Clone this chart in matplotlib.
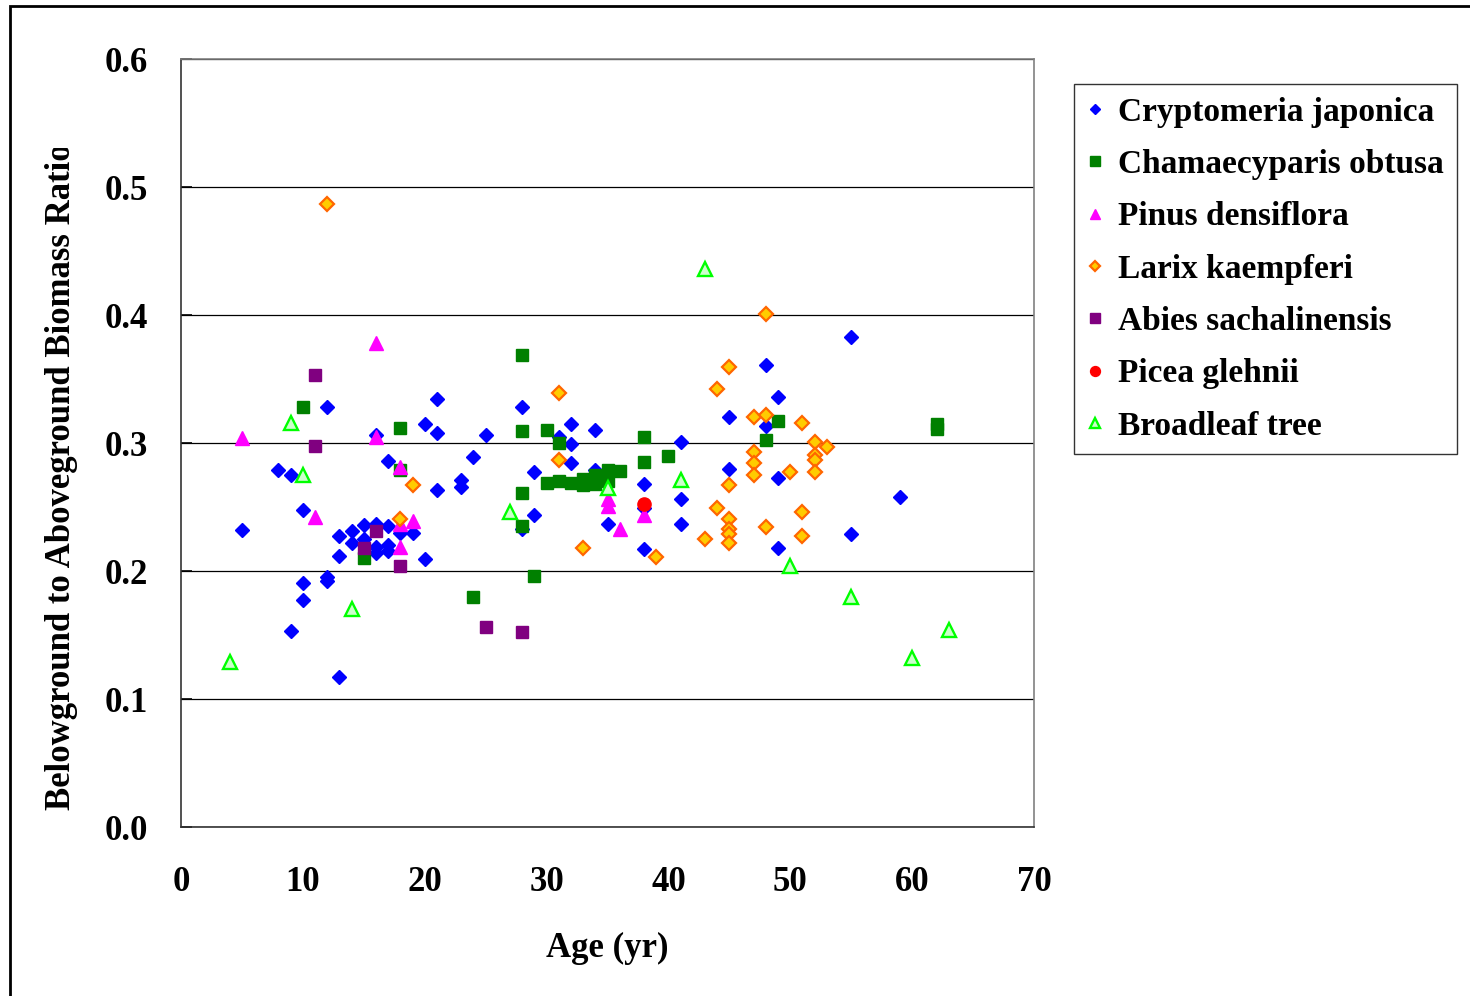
import matplotlib
matplotlib.use("Agg")
import matplotlib.pyplot as plt
from matplotlib.patches import Rectangle
from matplotlib.transforms import Bbox

plt.rcParams['font.family'] = ['Liberation Serif', 'DejaVu Serif']
plt.rcParams['font.weight'] = 'bold'

# Cryptomeria japonica
cj_age = [5, 8, 9, 9, 10, 10, 10, 12, 12, 12, 13, 13, 13, 14, 14, 15, 15, 16, 16, 16, 16,
          17, 17, 17, 17, 18, 19, 20, 20, 21, 21, 21, 23, 23, 24, 25, 28, 28, 29, 29, 31,
          32, 32, 32, 34, 34, 35, 38, 38, 38, 41, 41, 41, 45, 45, 48, 48, 49, 49, 49, 55, 55, 59]
cj_ratio = [0.232, 0.279, 0.275, 0.153, 0.248, 0.191, 0.177, 0.328, 0.195, 0.192, 0.227, 0.212, 0.117,
            0.231, 0.222, 0.236, 0.225, 0.306, 0.237, 0.219, 0.214, 0.286, 0.235, 0.220, 0.216,
            0.230, 0.230, 0.315, 0.209, 0.334, 0.308, 0.263, 0.271, 0.266, 0.289, 0.306, 0.328,
            0.233, 0.277, 0.244, 0.305, 0.315, 0.299, 0.284, 0.310, 0.279, 0.237, 0.268, 0.249,
            0.217, 0.301, 0.256, 0.237, 0.320, 0.280, 0.361, 0.313, 0.336, 0.273, 0.218, 0.383,
            0.229, 0.258]

# Chamaecyparis obtusa
co_age = [10, 15, 18, 18, 24, 28, 28, 28, 28, 29, 30, 30, 31, 31, 32, 33, 33, 34, 34, 35, 35,
          36, 38, 38, 40, 48, 49, 62, 62]
co_ratio = [0.328, 0.210, 0.312, 0.279, 0.180, 0.369, 0.309, 0.261, 0.235, 0.196, 0.310, 0.269,
            0.300, 0.270, 0.269, 0.272, 0.267, 0.275, 0.268, 0.279, 0.270, 0.278, 0.305, 0.285,
            0.290, 0.302, 0.317, 0.315, 0.311]

# Pinus densiflora
pd_age = [5, 11, 16, 16, 18, 18, 19, 18, 35, 35, 36, 38]
pd_ratio = [0.304, 0.242, 0.378, 0.305, 0.281, 0.237, 0.239, 0.219, 0.256, 0.251, 0.233, 0.244]

# Larix kaempferi
lk_age = [12, 18, 19, 31, 31, 33, 39, 43, 44, 44, 45, 45, 45, 45, 45, 45, 47, 47, 47, 47,
          48, 48, 48, 50, 51, 51, 51, 52, 52, 52, 52, 53]
lk_ratio = [0.487, 0.241, 0.267, 0.339, 0.287, 0.218, 0.211, 0.225, 0.342, 0.249, 0.359, 0.267,
            0.241, 0.233, 0.229, 0.222, 0.320, 0.293, 0.284, 0.275, 0.401, 0.322, 0.234, 0.277,
            0.316, 0.246, 0.227, 0.301, 0.291, 0.287, 0.277, 0.297]

# Abies sachalinensis
as_age = [11, 11, 15, 16, 18, 25, 28]
as_ratio = [0.353, 0.298, 0.218, 0.231, 0.204, 0.156, 0.152]

# Picea glehnii
pg_age = [38]
pg_ratio = [0.252]

# Broadleaf tree
bl_age = [4, 9, 10, 14, 27, 35, 41, 43, 50, 55, 60, 63]
bl_ratio = [0.129, 0.316, 0.275, 0.170, 0.246, 0.265, 0.271, 0.436, 0.204, 0.180, 0.132, 0.154]

fig = plt.figure(figsize=(14.7, 9.96), dpi=100)
ax = fig.add_axes([181 / 1470, 169 / 996, 853 / 1470, 768 / 996])

ax.plot(cj_age, cj_ratio, 'D', ms=7.4, color='#0000FF', mec='#0000FF', label='Cryptomeria japonica')
ax.plot(co_age, co_ratio, 's', ms=9, color='#008000', mec='#008000', label='Chamaecyparis obtusa')
ax.plot(pd_age, pd_ratio, '^', ms=10.5, color='#FF00FF', mec='#FF00FF', label='Pinus densiflora')
ax.plot(lk_age, lk_ratio, 'D', ms=6.8, color='#FFCC00', mec='#FF6600', mew=1.6, label='Larix kaempferi')
ax.plot(as_age, as_ratio, 's', ms=9, color='#800080', mec='#800080', label='Abies sachalinensis')
ax.plot(pg_age, pg_ratio, 'o', ms=9.5, color='#FF0000', mec='#FF0000', label='Picea glehnii')
ax.plot(bl_age, bl_ratio, '^', ms=10, color='#CCFFCC', mec='#00FF00', mew=1.7, label='Broadleaf tree')

ax.set_xlim(0, 70)
ax.set_ylim(0, 0.6)
ax.set_xticks(range(0, 71, 10))
ax.set_yticks([0.0, 0.1, 0.2, 0.3, 0.4, 0.5, 0.6])
ax.set_yticklabels(['0.0', '0.1', '0.2', '0.3', '0.4', '0.5', '0.6'])
ax.yaxis.grid(True, color='black', lw=0.9)
ax.set_axisbelow(True)
ax.tick_params(axis='y', direction='in', length=8, width=1.2, pad=24, labelsize=25)
ax.tick_params(axis='x', direction='in', length=0, pad=28, labelsize=25)
for s in ['left', 'bottom']:
    ax.spines[s].set_color('#333333')
    ax.spines[s].set_linewidth(1.2)
for s in ['top', 'right']:
    ax.spines[s].set_color('#808080')
    ax.spines[s].set_linewidth(1.2)

ax.set_xlabel('Age (yr)', fontsize=25, fontweight='bold')
ax.xaxis.set_label_coords(0.5, -0.137)

# y label runs past the top of its box in the original, so clip it
ylab = fig.text(62 / 1470, 1 - 810 / 996, 'Belowground to Aboveground Biomass Ratio',
                rotation=90, rotation_mode='anchor', ha='left', va='center',
                fontsize=25, fontweight='bold')
ylab.set_clip_box(Bbox.from_extents(0, 0, 200, 996 - 148))
ylab.set_clip_on(True)

leg = fig.legend(loc='upper left', bbox_to_anchor=(1074 / 1470, 1 - 84 / 996),
                 fontsize=24, frameon=True, fancybox=False, edgecolor='black',
                 handlelength=0.5, handletextpad=0.45, labelspacing=0.64,
                 borderpad=0.38, markerscale=0.75, borderaxespad=0)
leg.get_frame().set_linewidth(1.0)

fig.patches.append(Rectangle((10 / 1470, -0.1), 2, 1 - 6 / 996 + 0.1, transform=fig.transFigure,
                             fill=False, edgecolor='black', lw=2, figure=fig))

fig.savefig('out.png', dpi=100)
